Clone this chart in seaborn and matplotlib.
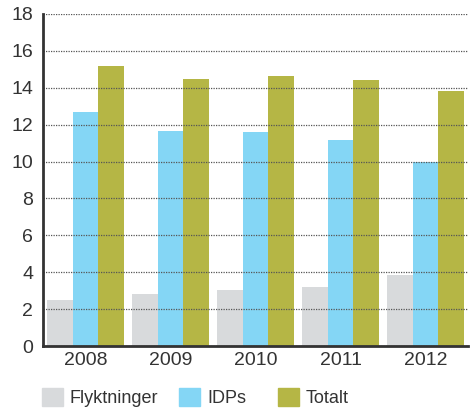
import matplotlib
matplotlib.use("Agg")
import matplotlib.pyplot as plt
import seaborn as sns
import pandas as pd

years = ["2008", "2009", "2010", "2011", "2012"]
flyktninger = [2.5, 2.8, 3.05, 3.2, 3.85]
idps = [12.7, 11.65, 11.62, 11.15, 10.0]
totalt = [15.2, 14.5, 14.65, 14.4, 13.8]
series = ["Flyktninger", "IDPs", "Totalt"]
colors = ["#d8dadc", "#84d6f5", "#b5b645"]

df = pd.DataFrame({
    "year": years * 3,
    "value": flyktninger + idps + totalt,
    "serie": [s for s in series for _ in years],
})

sns.set_style("white")
plt.rcParams["font.family"] = ["Liberation Sans", "DejaVu Sans"]

fig = plt.figure(figsize=(4.76, 4.11), dpi=100)
ax = fig.add_axes([0.0903, 0.158, 0.893, 0.808])

sns.barplot(data=df, x="year", y="value", hue="serie", palette=colors,
            width=0.9, gap=0, saturation=1, linewidth=0, ax=ax, legend=False)

ax.set_ylim(0, 18)
ax.set_xlim(-0.5, 4.5)
ax.set_yticks(range(0, 19, 2))
ax.yaxis.grid(True, linestyle=(0, (1, 1)), color="#555555", linewidth=0.9)
ax.set_axisbelow(False)
for b in ax.patches:
    b.set_zorder(1)
ax.set_xlabel("")
ax.set_ylabel("")
for s in ["top", "right"]:
    ax.spines[s].set_visible(False)
for s in ["left", "bottom"]:
    ax.spines[s].set_color("#333333")
    ax.spines[s].set_linewidth(2)
    ax.spines[s].set_zorder(4)
ax.tick_params(axis="x", length=0, labelsize=14, labelcolor="#333333", pad=4)
ax.tick_params(axis="y", length=0, labelsize=14, labelcolor="#333333", pad=7)

# legend entries sit at fixed positions below the axis
for c, lab, x0 in zip(colors, series, [0.054, 0.342, 0.550]):
    fig.legend([plt.Rectangle((0, 0), 1, 1, color=c)], [lab], loc="lower left",
               bbox_to_anchor=(x0, -0.03), frameon=False, fontsize=13,
               handlelength=1.15, handleheight=1.15, handletextpad=0.4,
               labelcolor="#333333")

fig.savefig("out.png", dpi=100)
